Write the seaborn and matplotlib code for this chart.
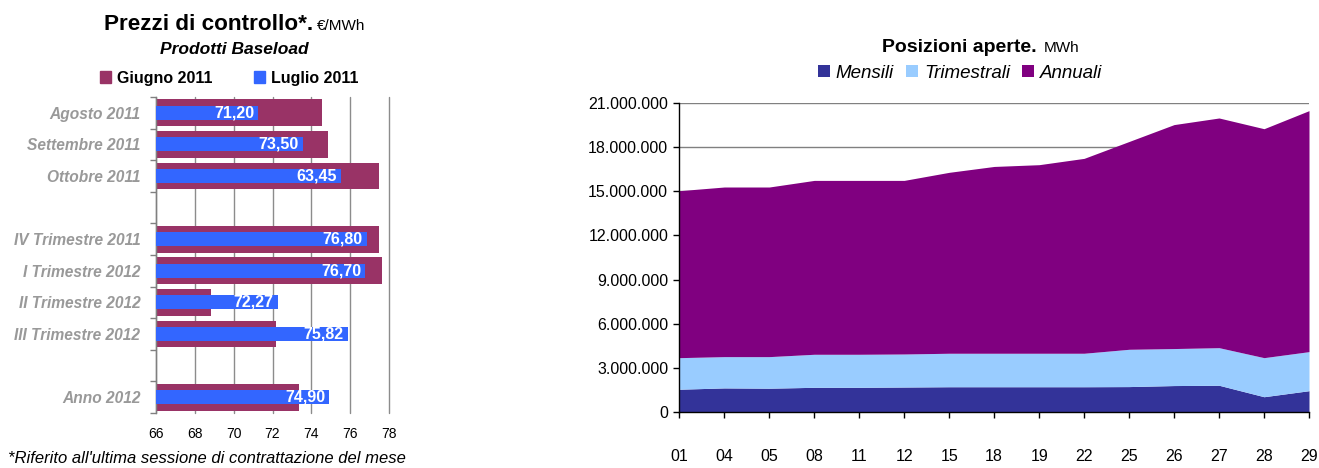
import numpy as np
import pandas as pd
import matplotlib.pyplot as plt
import matplotlib.ticker as mticker
from matplotlib.patches import Patch
import seaborn as sns

# --- dati: prezzi di controllo (EUR/MWh) ---
categorie = ["Agosto 2011", "Settembre 2011", "Ottobre 2011",
             "IV Trimestre 2011", "I Trimestre 2012", "II Trimestre 2012",
             "III Trimestre 2012", "Anno 2012"]
giugno_2011 = [74.53, 74.85, 77.47, 77.47, 77.60, 68.82, 72.20, 73.35]
luglio_2011 = [71.25, 73.55, 75.50, 76.84, 76.75, 72.27, 75.86, 74.90]
etichette_luglio = ["71,20", "73,50", "63,45", "76,80", "76,70", "72,27", "75,82", "74,90"]
# ordine sul grafico, con due righe vuote
ordine = ["Agosto 2011", "Settembre 2011", "Ottobre 2011", " ",
          "IV Trimestre 2011", "I Trimestre 2012", "II Trimestre 2012",
          "III Trimestre 2012", "  ", "Anno 2012"]

# --- dati: posizioni aperte (MWh) ---
giorni = ["01", "04", "05", "08", "11", "12", "15", "18", "19", "22",
          "25", "26", "27", "28", "29"]
mensili = [1530000, 1620000, 1600000, 1660000, 1660000, 1680000, 1700000, 1700000,
           1700000, 1700000, 1710000, 1780000, 1800000, 1020000, 1430000]
trimestrali = [2150000, 2130000, 2150000, 2250000, 2250000, 2250000, 2280000, 2280000,
               2280000, 2280000, 2540000, 2520000, 2560000, 2660000, 2660000]
annuali = [11370000, 11550000, 11550000, 11840000, 11840000, 11820000, 12320000, 12720000,
           12840000, 13270000, 14150000, 15250000, 15640000, 15590000, 16410000]

C_GIU = "#993366"
C_LUG = "#3366FF"
C_MEN = "#333399"
C_TRI = "#99CCFF"
C_ANN = "#800080"

sns.set_theme(style="white")
plt.rcParams['font.family'] = ['Liberation Sans', 'DejaVu Sans']
plt.rcParams['text.color'] = 'black'
plt.rcParams['xtick.color'] = 'black'
plt.rcParams['ytick.color'] = 'black'

W, H = 1319, 468
fig = plt.figure(figsize=(W / 100, H / 100), dpi=100)

# ---------------- grafico a barre ----------------
ax1 = fig.add_axes([155.7 / W, 1 - 413 / H, 233.6 / W, 316 / H])
df = pd.DataFrame({"categoria": categorie, "giugno": giugno_2011, "luglio": luglio_2011})
sns.barplot(data=df, y="categoria", x="giugno", order=ordine, orient="h",
            color=C_GIU, saturation=1, width=0.85, linewidth=0, ax=ax1, zorder=2)
sns.barplot(data=df, y="categoria", x="luglio", order=ordine, orient="h",
            color=C_LUG, saturation=1, width=0.44, linewidth=0, ax=ax1, zorder=3)
for cat, val, lab in zip(categorie, luglio_2011, etichette_luglio):
    ax1.text(val - 0.2, ordine.index(cat), lab, ha="right", va="center",
             color="white", fontweight="bold", fontsize=11.5, zorder=4)

ax1.set_xlim(66, 78)
ax1.set_ylim(len(ordine) - 0.5, -0.5)
ax1.set_xticks(range(66, 79, 2))
ax1.set_xlabel("")
ax1.set_ylabel("")
ax1.grid(axis="x", color="#8C8C8C", linewidth=1, zorder=0)
for gl in ax1.get_xgridlines():
    gl.set_clip_on(False)
ax1.set_axisbelow(True)
for s in ["top", "right", "bottom"]:
    ax1.spines[s].set_visible(False)
ax1.spines["left"].set_color("#808080")
ax1.spines["left"].set_linewidth(1)
ax1.set_yticks(range(len(ordine)))
ax1.set_yticklabels(ordine, fontsize=11.2, fontweight="bold", fontstyle="italic", color="#999999")
ax1.set_yticks(np.arange(-0.5, len(ordine), 1), minor=True)
ax1.tick_params(axis="y", which="major", length=0, pad=11)
ax1.tick_params(axis="y", which="minor", left=True, length=4, color="#808080", width=1)
ax1.tick_params(axis="x", length=0, pad=10, labelsize=10)

fig.text(313 / W, 1 - 30 / H, "Prezzi di controllo*.", ha="right", va="baseline",
         fontsize=16.2, fontweight="bold")
fig.text(317 / W, 1 - 30 / H, "€/MWh", ha="left", va="baseline", fontsize=11)
fig.text(234 / W, 1 - 54 / H, "Prodotti Baseload", ha="center", va="baseline",
         fontsize=12.5, fontweight="bold", fontstyle="italic")
fig.legend(handles=[Patch(color=C_GIU, label="Giugno 2011"), Patch(color=C_LUG, label="Luglio 2011")],
           loc="center", bbox_to_anchor=(229 / W, 1 - 78 / H), ncol=2, frameon=False,
           handlelength=0.7, handleheight=0.7, handletextpad=0.35, columnspacing=2.6,
           prop={"size": 11.5, "weight": "bold"})
fig.text(8 / W, 1 - 463 / H, "*Riferito all'ultima sessione di contrattazione del mese",
         ha="left", va="baseline", fontsize=12, fontstyle="italic")

# ---------------- grafico ad aree ----------------
ax2 = fig.add_axes([679.3 / W, 1 - 411.7 / H, 629.7 / W, 308.4 / H])
x = np.arange(len(giorni))
ax2.stackplot(x, mensili, trimestrali, annuali, colors=[C_MEN, C_TRI, C_ANN],
              labels=["Mensili", "Trimestrali", "Annuali"], linewidth=0, zorder=2)
ax2.set_xlim(0, len(giorni) - 1)
ax2.set_ylim(0, 21000000)
ax2.set_xticks(x)
ax2.set_xticklabels(giorni)
ax2.yaxis.set_major_locator(mticker.MultipleLocator(3000000))
ax2.yaxis.set_major_formatter(mticker.FuncFormatter(lambda v, p: f"{v:,.0f}".replace(",", ".")))
ax2.grid(axis="y", color="#808080", linewidth=1, zorder=0)
ax2.set_axisbelow(True)
for s in ["top", "right"]:
    ax2.spines[s].set_visible(False)
for s in ["left", "bottom"]:
    ax2.spines[s].set_color("black")
    ax2.spines[s].set_linewidth(1)
ax2.tick_params(axis="y", left=True, length=4, width=1, color="black", pad=4, labelsize=11.5)
ax2.tick_params(axis="x", bottom=True, length=4, width=1, color="black", pad=23, labelsize=11.5)

fig.text(1037 / W, 1 - 51.7 / H, "Posizioni aperte.", ha="right", va="baseline",
         fontsize=14, fontweight="bold")
fig.text(1044 / W, 1 - 51.7 / H, "MWh", ha="left", va="baseline", fontsize=11)
h, l = ax2.get_legend_handles_labels()
fig.legend(h, l, loc="center", bbox_to_anchor=(960 / W, 1 - 73 / H), ncol=3, frameon=False,
           handlelength=0.65, handleheight=0.65, handletextpad=0.3, columnspacing=0.65,
           prop={"size": 13.5, "style": "italic"})

fig.savefig("out.png", dpi=100)
